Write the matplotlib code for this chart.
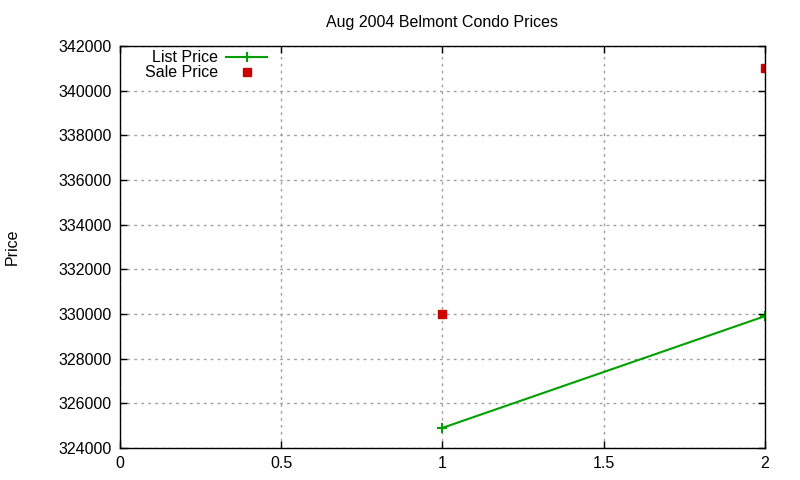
import matplotlib
matplotlib.use("Agg")
import matplotlib.pyplot as plt
from matplotlib.ticker import MultipleLocator, FormatStrFormatter

plt.rcParams['font.family'] = ['Liberation Sans', 'DejaVu Sans']

# data
list_x = [1, 2]
list_price = [324900, 329900]
sale_x = [1, 2]
sale_price = [330000, 341000]

fig = plt.figure(figsize=(8, 4.8), dpi=100)
ax = fig.add_axes([0.15, 0.0667, 0.806, 0.8375])

ax.plot(list_x, list_price, color='#00a000', lw=1.5, marker='+', ms=7, mew=1.5,
        label='List Price')
ax.plot(sale_x, sale_price, ls='none', color='#cc0000', marker='s', ms=6,
        label='Sale Price')

ax.set_xlim(0, 2)
ax.set_ylim(324000, 342000)
ax.xaxis.set_major_locator(MultipleLocator(0.5))
ax.yaxis.set_major_locator(MultipleLocator(2000))
ax.xaxis.set_major_formatter(FormatStrFormatter('%g'))
ax.yaxis.set_major_formatter(FormatStrFormatter('%d'))

ax.tick_params(direction='in', top=True, right=True, length=5, width=1,
               labelsize=11.5, pad=6)
ax.grid(True, color='#a0a0a0', ls=(0, (2, 3)), lw=1)
for s in ax.spines.values():
    s.set_linewidth(1)

ax.set_title('Aug 2004 Belmont Condo Prices', fontsize=11.5, pad=14)
fig.text(0.015, 0.485, 'Price', rotation=90, fontsize=11.5, va='center', ha='center')

ax.legend(loc='upper left', bbox_to_anchor=(0.021, 1.017), markerfirst=False,
          frameon=False, fontsize=11.5, handlelength=2.6, labelspacing=0.0,
          handletextpad=0.5, borderaxespad=0.3)
ax.get_legend()._legend_box.align = 'right'

fig.savefig('out.png', dpi=100)
